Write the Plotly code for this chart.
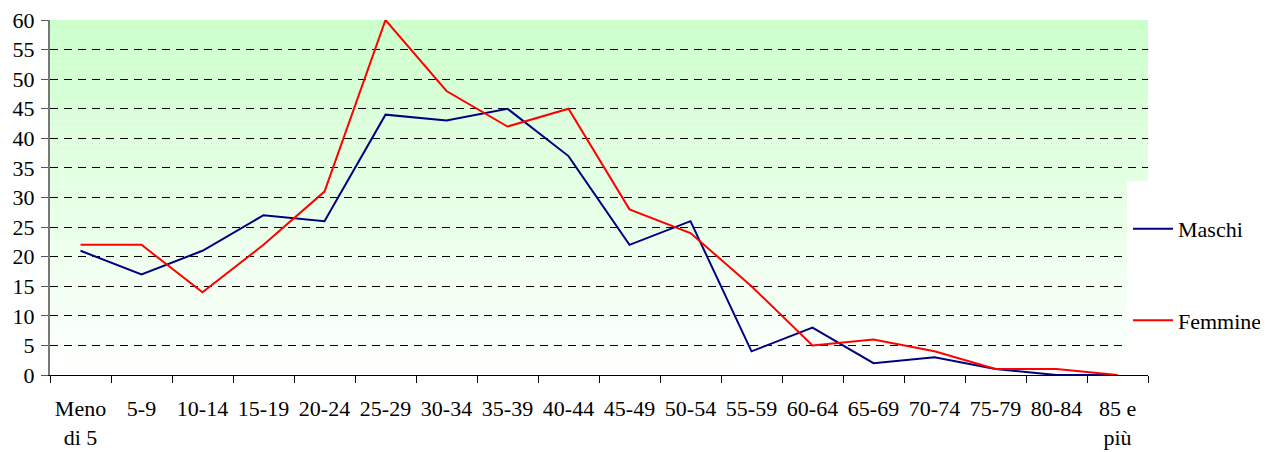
import plotly.graph_objects as go

# Age classes and counts
age_classes = ["Meno<br>di 5", "5-9", "10-14", "15-19", "20-24", "25-29", "30-34",
               "35-39", "40-44", "45-49", "50-54", "55-59", "60-64", "65-69",
               "70-74", "75-79", "80-84", "85 e<br>più"]
maschi = [21, 17, 21, 27, 26, 44, 43, 45, 37, 22, 26, 4, 8, 2, 3, 1, 0, 0]
femmine = [22, 22, 14, 22, 31, 60, 48, 42, 45, 28, 24, 15, 5, 6, 4, 1, 1, 0]
y_ticks = list(range(0, 61, 5))

FONT = "Liberation Serif, Times New Roman, serif"

fig = go.Figure()

fig.add_trace(go.Scatter(
    x=age_classes, y=maschi, name="Maschi", mode="lines",
    line=dict(color="#000080", width=2), legendgroup="m"
))
fig.add_trace(go.Scatter(
    x=age_classes, y=femmine, name="Femmine", mode="lines",
    line=dict(color="#FF0000", width=2), legendgroup="f"
))

# Vertical green-to-white gradient behind the plot
shapes = []
n_bands = 60
for i in range(n_bands):
    t = (i + 0.5) / n_bands
    r = round(255 - (255 - 204) * t)
    shapes.append(dict(
        type="rect", xref="x domain", yref="y", layer="below",
        x0=0, x1=1, y0=60 * i / n_bands, y1=60 * (i + 1) / n_bands,
        fillcolor=f"rgb({r},255,{r})", line=dict(width=0)
    ))

# page body has an 8px margin, so the figure is shrunk by that much
W, H = 1260, 444
ml, mr, mt, mb = 42, 120, 12, 77
pw, ph = W - ml - mr, H - mt - mb
plot_bottom = H - mb

# White legend box over the right end of the plot area
shapes.append(dict(
    type="rect", xref="paper", yref="paper", layer="above",
    x0=(1119 - ml) / pw, x1=(W - ml) / pw,
    y0=(plot_bottom - 364) / ph, y1=(plot_bottom - 173) / ph,
    fillcolor="white", line=dict(width=0)
))

fig.update_layout(
    width=W, height=H,
    margin=dict(l=ml, r=mr, t=mt, b=mb, autoexpand=False),
    paper_bgcolor="white", plot_bgcolor="white",
    font=dict(family=FONT, size=22, color="black"),
    shapes=shapes,
    showlegend=True,
    legend=dict(
        x=(1120 - ml) / pw, xanchor="left", y=0.282, yanchor="middle",
        bgcolor="rgba(0,0,0,0)", traceorder="grouped",
        tracegroupgap=60, font=dict(size=22), itemwidth=40
    ),
    xaxis=dict(
        type="category", tickson="boundaries", ticks="outside", ticklen=7,
        tickcolor="black", showline=True, linecolor="black", linewidth=1,
        showgrid=False, ticklabelstandoff=14, range=[-0.5, 17.5],
        automargin=False
    ),
    yaxis=dict(
        range=[0, 60], tickvals=y_ticks, ticks="outside", ticklen=7,
        tickcolor="#555", showline=True, linecolor="#777", linewidth=2,
        showgrid=True, gridcolor="black", griddash="8px,6px", gridwidth=1,
        zeroline=False, ticklabelstandoff=2, automargin=False,
        ticklabeloverflow="allow"
    ),
)

fig.write_html("out.html")
